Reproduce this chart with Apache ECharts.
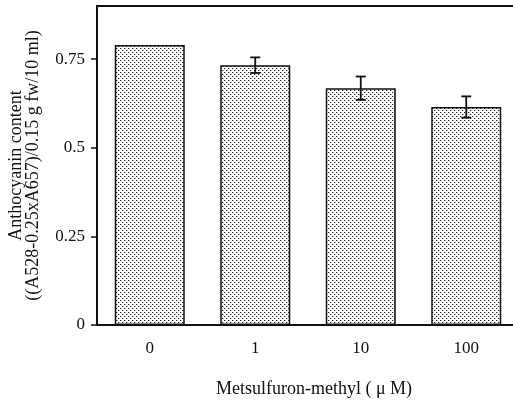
<!DOCTYPE html>
<html>
<head>
<meta charset="utf-8">
<script src="https://cdn.jsdelivr.net/npm/echarts@6/dist/echarts.min.js"></script>
<style>
  html, body { margin: 0; padding: 0; background: #fff; }
  #chart { width: 513px; height: 402px; }
</style>
</head>
<body>
<div id="chart"></div>
<script>
// data
const categories = ['0', '1', '10', '100']
const anthocyanin = [0.79, 0.733, 0.668, 0.615]
const errors = [0, 0.022, 0.033, 0.03]
const yTicks = [0, 0.25, 0.5, 0.75]

// stipple fill like the printed bars
function dotPattern() {
  const c = document.createElement('canvas')
  c.width = 4
  c.height = 4
  const ctx = c.getContext('2d')
  ctx.fillStyle = '#fff'
  ctx.fillRect(0, 0, 4, 4)
  ctx.fillStyle = '#222'
  ctx.fillRect(0, 0, 1, 1)
  ctx.fillRect(2, 2, 1, 1)
  ctx.fillStyle = '#c4c4c4'
  ctx.fillRect(1, 0, 1, 1)
  ctx.fillRect(3, 2, 1, 1)
  return c
}

const font = '"Liberation Serif", "Times New Roman", serif'
const chart = echarts.init(document.getElementById('chart'))

chart.setOption({
  animation: false,
  textStyle: { fontFamily: font, color: '#111' },
  grid: { left: 97, right: -6, top: 6, bottom: 77, outerBoundsMode: 'none', containLabel: false },
  xAxis: [
    {
      type: 'category',
      data: categories,
      axisLine: { lineStyle: { color: '#111', width: 2 } },
      axisTick: { alignWithLabel: true, length: 6, lineStyle: { color: '#111', width: 1.5 } },
      axisLabel: { fontSize: 17, color: '#111', margin: 15, fontFamily: font },
      name: 'Metsulfuron-methyl ( μ M)',
      nameLocation: 'middle',
      nameGap: 55,
      nameTextStyle: { fontSize: 18, color: '#111', fontFamily: font, padding: [0, 0, 0, 12] }
    },
    {
      type: 'category',
      position: 'top',
      data: categories,
      axisLine: { lineStyle: { color: '#111', width: 2 } },
      axisTick: { show: false },
      axisLabel: { show: false }
    }
  ],
  yAxis: {
    type: 'value',
    min: 0,
    max: 0.9,
    interval: 0.25,
    splitLine: { show: false },
    axisLine: { show: true, lineStyle: { color: '#111', width: 2 } },
    axisTick: { show: true, length: 6, customValues: yTicks, lineStyle: { color: '#111', width: 1.5 } },
    axisLabel: { fontSize: 17, color: '#111', margin: 12, customValues: yTicks, fontFamily: font },
    name: 'Anthocyanin content\n((A528-0.25xA657)/0.15 g fw/10 ml)',
    nameLocation: 'middle',
    nameGap: 55,
    nameTextStyle: { fontSize: 18, color: '#111', lineHeight: 17, fontFamily: font }
  },
  series: [
    {
      type: 'bar',
      data: anthocyanin,
      barWidth: 70,
      itemStyle: {
        color: { image: dotPattern(), repeat: 'repeat' },
        borderColor: '#111',
        borderWidth: 1.5
      }
    },
    {
      type: 'custom',
      data: anthocyanin.map((v, i) => [i, v, errors[i]]),
      z: 10,
      renderItem(params, api) {
        const err = api.value(2)
        if (!err) return null
        const i = api.value(0)
        const v = api.value(1)
        const hi = api.coord([i, v + err])
        const lo = api.coord([i, v - err])
        const w = 5
        const style = { stroke: '#111', lineWidth: 1.8 }
        return {
          type: 'group',
          children: [
            { type: 'line', shape: { x1: hi[0], y1: hi[1], x2: lo[0], y2: lo[1] }, style },
            { type: 'line', shape: { x1: hi[0] - w, y1: hi[1], x2: hi[0] + w, y2: hi[1] }, style },
            { type: 'line', shape: { x1: lo[0] - w, y1: lo[1], x2: lo[0] + w, y2: lo[1] }, style }
          ]
        }
      }
    }
  ]
})
</script>
</body>
</html>
